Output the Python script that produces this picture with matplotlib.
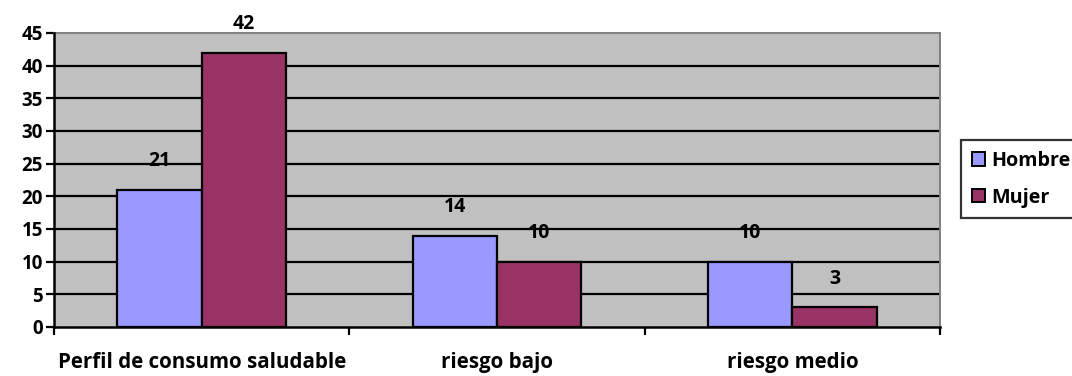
import matplotlib
matplotlib.use("Agg")
import matplotlib.pyplot as plt
import numpy as np
from matplotlib.patches import Patch

categories = ["Perfil de consumo saludable", "riesgo bajo", "riesgo medio"]
hombre = [21, 14, 10]
mujer = [42, 10, 3]
series_names = ["Hombre", "Mujer"]
y_ticks = [0, 5, 10, 15, 20, 25, 30, 35, 40, 45]

plt.rcParams["font.family"] = ["Open Sans", "DejaVu Sans"]
plt.rcParams["font.weight"] = "bold"

W, H = 1072, 376
fig = plt.figure(figsize=(W / 100, H / 100), dpi=100)
fig.patch.set_facecolor("white")
ax = fig.add_axes([54 / W, 1 - 327 / H, (940 - 54) / W, (327 - 33) / H])
ax.set_facecolor("#C0C0C0")

x = np.arange(len(categories))
bw = 1 / 3.5
c_h, c_m = "#9999FF", "#993366"
ax.bar(x - bw / 2, hombre, bw, color=c_h, edgecolor="black", linewidth=1.6, zorder=3)
ax.bar(x + bw / 2, mujer, bw, color=c_m, edgecolor="black", linewidth=1.6, zorder=3)

for xs, vals in ((x - bw / 2, hombre), (x + bw / 2, mujer)):
    for xi, v in zip(xs, vals):
        ax.annotate(str(v), (xi, v), xytext=(0, 20.5), textcoords="offset points",
                    ha="center", va="center", fontsize=14, fontweight="bold",
                    color="black", zorder=5, annotation_clip=False)

ax.set_xlim(-0.5, len(categories) - 0.5)
ax.set_ylim(0, 45)
ax.set_yticks(y_ticks)
ax.set_yticklabels([str(t) for t in y_ticks], fontsize=13.5, fontweight="bold")
for t in y_ticks[1:-1]:
    ax.axhline(t, color="black", linewidth=1.6, zorder=1)

ax.set_xticks(x)
ax.set_xticklabels(categories, fontsize=14.8, fontweight="bold")
ax.tick_params(axis="x", which="major", length=0, pad=18)
ax.set_xticks(np.arange(-0.5, len(categories)), minor=True)
ax.tick_params(axis="x", which="minor", length=6, width=1.6, color="black")
ax.tick_params(axis="y", length=6, width=1.6, color="black", pad=2)

for s in ("top", "right"):
    ax.spines[s].set_color("#808080")
    ax.spines[s].set_linewidth(1.4)
for s in ("left", "bottom"):
    ax.spines[s].set_color("black")
    ax.spines[s].set_linewidth(1.8)
    ax.spines[s].set_zorder(4)

handles = [Patch(facecolor=c_h, edgecolor="black", linewidth=1.4),
           Patch(facecolor=c_m, edgecolor="black", linewidth=1.4)]
leg = fig.legend(handles, series_names, loc="upper left",
                 bbox_to_anchor=(961 / W, 1 - 140 / H), frameon=True,
                 fancybox=False, prop={"weight": "bold", "size": 14.2},
                 handlelength=0.68, handleheight=0.68, handletextpad=0.3,
                 borderpad=0.55, labelspacing=0.85, borderaxespad=0)
leg.get_frame().set_edgecolor("black")
leg.get_frame().set_linewidth(1.6)

fig.savefig("out.png", dpi=100, facecolor="white")
